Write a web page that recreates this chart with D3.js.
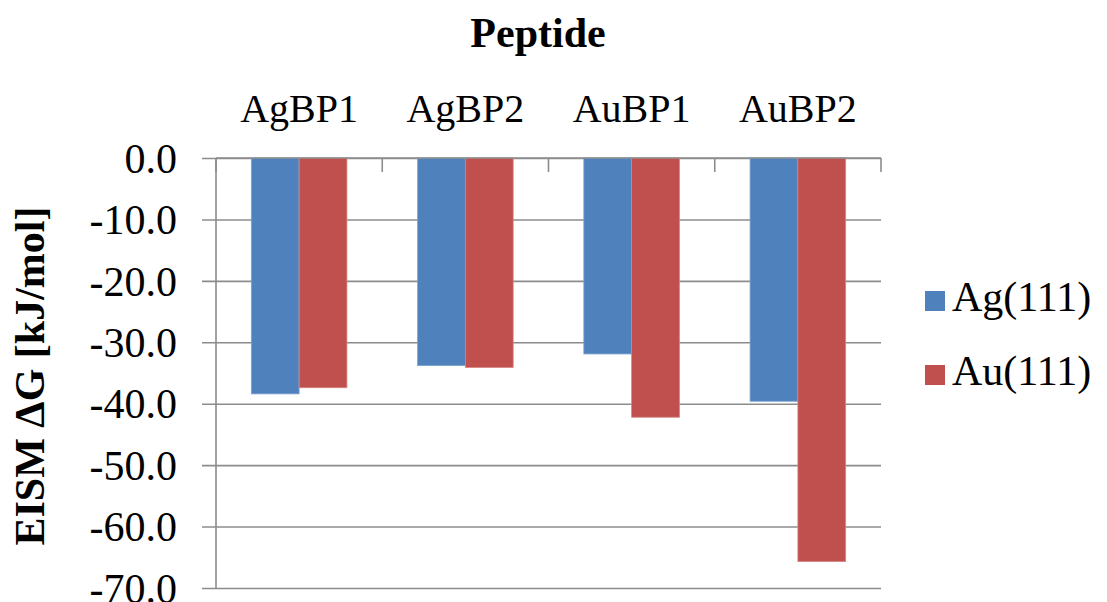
<!DOCTYPE html>
<html>
<head>
<meta charset="utf-8">
<script src="https://cdn.jsdelivr.net/npm/d3@7"></script>
<style>
  html, body { margin: 0; padding: 0; background: #fff; }
</style>
</head>
<body>
<svg id="chart" width="1107" height="602"></svg>
<script>
// Peptide binding free energies on Ag(111) and Au(111)
const categories = ["AgBP1", "AgBP2", "AuBP1", "AuBP2"];
const seriesNames = ["Ag(111)", "Au(111)"];
const agValues = [-38.4, -33.8, -31.9, -39.6];
const auValues = [-37.4, -34.1, -42.2, -65.7];
const yTicks = [0, -10, -20, -30, -40, -50, -60, -70];
const colors = ["#4F81BD", "#C0504D"];
const strokes = ["#7FA3D0", "#D88583"];

const serif = "Liberation Serif";
const fmt = d3.formatLocale({ decimal: ".", thousands: ",", grouping: [3], currency: ["", ""], minus: "-" }).format(".1f");

const svg = d3.select("#chart");
const margin = { left: 216, top: 158, right: 226, bottom: 14 };
const W = 1107 - margin.left - margin.right;
const H = 602 - margin.top - margin.bottom;

const g = svg.append("g").attr("transform", `translate(${margin.left},${margin.top})`);

const y = d3.scaleLinear().domain([0, -70]).range([0, H]);
const x0 = d3.scaleBand().domain(categories).range([0, W]).paddingInner(0.425).paddingOuter(0.2125);
const x1 = d3.scaleBand().domain(seriesNames).range([0, x0.bandwidth()]);

// gridlines with short ticks to the left
const yAxis = d3.axisLeft(y).tickValues(yTicks).tickSize(-W).tickSizeOuter(0).tickFormat(fmt);
const ya = g.append("g").call(yAxis);
ya.select(".domain").remove();
ya.selectAll(".tick line").attr("stroke", "#8c8c8c").attr("stroke-width", 1.6).attr("x1", -14);
ya.selectAll(".tick text").attr("x", -39).attr("dy", "0.34em")
  .style("font-family", serif).style("font-size", "42px").attr("fill", "#000");

// vertical axis line
g.append("line").attr("x1", 0).attr("x2", 0).attr("y1", 0).attr("y2", H)
  .attr("stroke", "#8c8c8c").attr("stroke-width", 1.6);

// bars
const rows = categories.map((c, i) => ({ cat: c, vals: [agValues[i], auValues[i]] }));
const grp = g.selectAll(".grp").data(rows).join("g").attr("transform", d => `translate(${x0(d.cat)},0)`);
grp.selectAll("rect").data(d => d.vals.map((v, j) => ({ key: seriesNames[j], v, j })))
  .join("rect")
  .attr("x", d => x1(d.key))
  .attr("y", y(0))
  .attr("width", x1.bandwidth())
  .attr("height", d => y(d.v) - y(0))
  .attr("fill", d => colors[d.j])
  .attr("stroke", d => strokes[d.j])
  .attr("stroke-width", 0.8);

// category axis along zero, labels above, tick marks at band boundaries
g.append("line").attr("x1", 0).attr("x2", W).attr("y1", y(0)).attr("y2", y(0))
  .attr("stroke", "#8c8c8c").attr("stroke-width", 1.6);
const bounds = categories.map(c => x0(c) - x0.step() * x0.paddingInner() / 2).concat([W]);
g.selectAll(".ctick").data(bounds).join("line")
  .attr("x1", d => d).attr("x2", d => d).attr("y1", y(0)).attr("y2", y(0) + 14)
  .attr("stroke", "#8c8c8c").attr("stroke-width", 1.6);
g.selectAll(".clabel").data(categories).join("text")
  .attr("x", d => x0(d) + x0.bandwidth() / 2)
  .attr("y", -36)
  .attr("text-anchor", "middle")
  .style("font-family", serif).style("font-size", "40px")
  .text(d => d);

// titles
svg.append("text").attr("x", 538).attr("y", 47).attr("text-anchor", "middle")
  .style("font-family", serif).style("font-size", "42px").style("font-weight", "bold").text("Peptide");
svg.append("text").attr("transform", "translate(44,376) rotate(-90)").attr("text-anchor", "middle")
  .style("font-family", serif).style("font-size", "42px").style("font-weight", "bold").text("EISM ΔG [kJ/mol]");

// legend
const leg = svg.append("g").attr("transform", "translate(925,291)");
const li = leg.selectAll("g").data(seriesNames).join("g").attr("transform", (d, i) => `translate(0,${i * 74})`);
li.append("rect").attr("width", 20).attr("height", 20).attr("fill", (d, i) => colors[i]);
li.append("text").attr("x", 27).attr("y", 20)
  .style("font-family", serif).style("font-size", "42px").text(d => d);
</script>
</body>
</html>
